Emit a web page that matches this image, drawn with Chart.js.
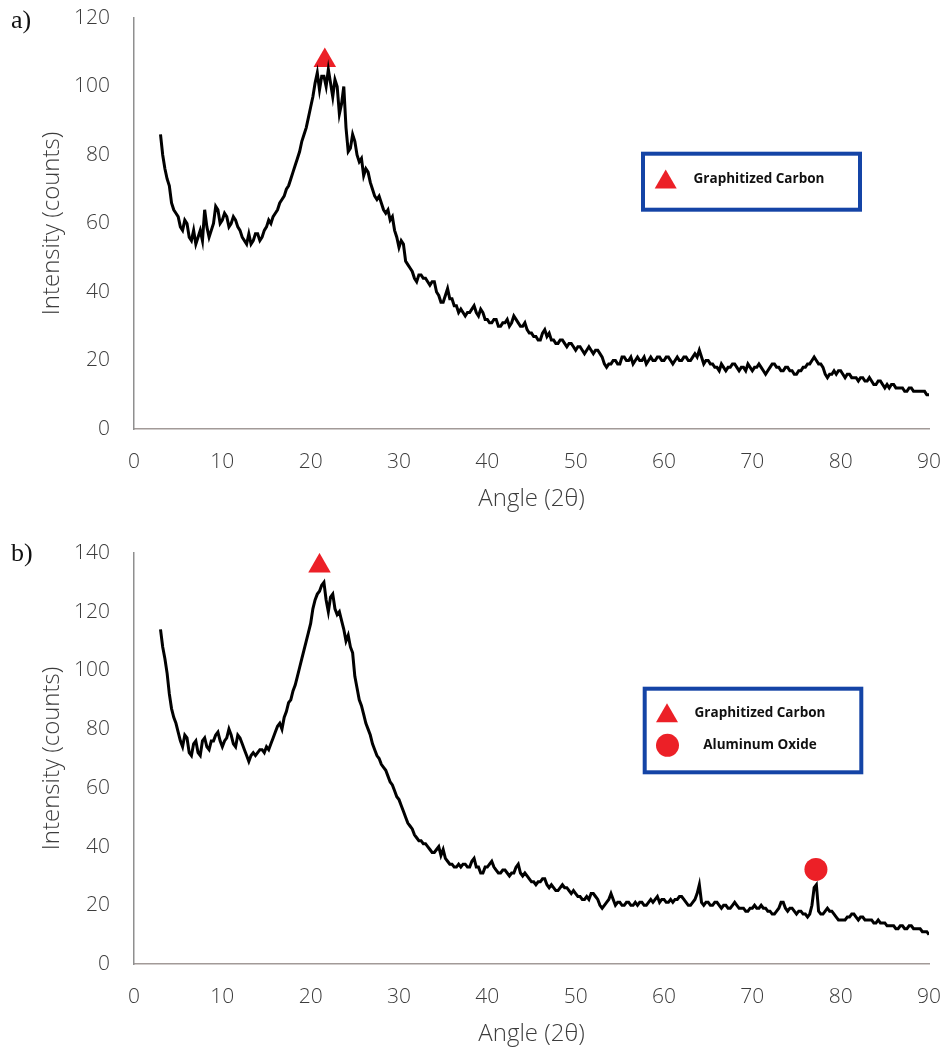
<!DOCTYPE html>
<html>
<head>
<meta charset="utf-8">
<script src="https://cdn.jsdelivr.net/npm/chart.js@4.4.1/dist/chart.umd.min.js"></script>
<style>
  body { margin: 0; background: #fff; width: 946px; height: 1050px; overflow: hidden; position: relative; }
  .panel { position: absolute; left: 0; width: 946px; height: 520px; }
  .panel-label { position: absolute; left: 11px; font-family: 'Liberation Serif', 'DejaVu Serif', serif; font-size: 26px; line-height: 30px; color: #111; }
</style>
</head>
<body>
<div class="panel" style="top:0"><canvas id="chart-a"></canvas></div>
<div class="panel-label" style="top:5px">a)</div>
<div class="panel" style="top:535px"><canvas id="chart-b"></canvas></div>
<div class="panel-label" style="top:538px">b)</div>

<script>
// diffraction angle (2θ) shared by both scans, one row per degree
const angles = [
  3, 3.25, 3.5, 3.75, 4, 4.25, 4.5, 4.75, 5, 5.25, 5.5, 5.75, 6, 6.25, 6.5, 6.75,
  7, 7.25, 7.5, 7.75, 8, 8.25, 8.5, 8.75, 9, 9.25, 9.5, 9.75, 10, 10.25, 10.5, 10.75,
  11, 11.25, 11.5, 11.75, 12, 12.25, 12.5, 12.75, 13, 13.25, 13.5, 13.75, 14, 14.25, 14.5, 14.75,
  15, 15.25, 15.5, 15.75, 16, 16.25, 16.5, 16.75, 17, 17.25, 17.5, 17.75, 18, 18.25, 18.5, 18.75,
  19, 19.25, 19.5, 19.75, 20, 20.25, 20.5, 20.75, 21, 21.25, 21.5, 21.75, 22, 22.25, 22.5, 22.75,
  23, 23.25, 23.5, 23.75, 24, 24.25, 24.5, 24.75, 25, 25.25, 25.5, 25.75, 26, 26.25, 26.5, 26.75,
  27, 27.25, 27.5, 27.75, 28, 28.25, 28.5, 28.75, 29, 29.25, 29.5, 29.75, 30, 30.25, 30.5, 30.75,
  31, 31.25, 31.5, 31.75, 32, 32.25, 32.5, 32.75, 33, 33.25, 33.5, 33.75, 34, 34.25, 34.5, 34.75,
  35, 35.25, 35.5, 35.75, 36, 36.25, 36.5, 36.75, 37, 37.25, 37.5, 37.75, 38, 38.25, 38.5, 38.75,
  39, 39.25, 39.5, 39.75, 40, 40.25, 40.5, 40.75, 41, 41.25, 41.5, 41.75, 42, 42.25, 42.5, 42.75,
  43, 43.25, 43.5, 43.75, 44, 44.25, 44.5, 44.75, 45, 45.25, 45.5, 45.75, 46, 46.25, 46.5, 46.75,
  47, 47.25, 47.5, 47.75, 48, 48.25, 48.5, 48.75, 49, 49.25, 49.5, 49.75, 50, 50.25, 50.5, 50.75,
  51, 51.25, 51.5, 51.75, 52, 52.25, 52.5, 52.75, 53, 53.25, 53.5, 53.75, 54, 54.25, 54.5, 54.75,
  55, 55.25, 55.5, 55.75, 56, 56.25, 56.5, 56.75, 57, 57.25, 57.5, 57.75, 58, 58.25, 58.5, 58.75,
  59, 59.25, 59.5, 59.75, 60, 60.25, 60.5, 60.75, 61, 61.25, 61.5, 61.75, 62, 62.25, 62.5, 62.75,
  63, 63.25, 63.5, 63.75, 64, 64.25, 64.5, 64.75, 65, 65.25, 65.5, 65.75, 66, 66.25, 66.5, 66.75,
  67, 67.25, 67.5, 67.75, 68, 68.25, 68.5, 68.75, 69, 69.25, 69.5, 69.75, 70, 70.25, 70.5, 70.75,
  71, 71.25, 71.5, 71.75, 72, 72.25, 72.5, 72.75, 73, 73.25, 73.5, 73.75, 74, 74.25, 74.5, 74.75,
  75, 75.25, 75.5, 75.75, 76, 76.25, 76.5, 76.75, 77, 77.25, 77.5, 77.75, 78, 78.25, 78.5, 78.75,
  79, 79.25, 79.5, 79.75, 80, 80.25, 80.5, 80.75, 81, 81.25, 81.5, 81.75, 82, 82.25, 82.5, 82.75,
  83, 83.25, 83.5, 83.75, 84, 84.25, 84.5, 84.75, 85, 85.25, 85.5, 85.75, 86, 86.25, 86.5, 86.75,
  87, 87.25, 87.5, 87.75, 88, 88.25, 88.5, 88.75, 89, 89.25, 89.5, 89.75, 90
];

// a) scan, counts
const intensityA = [
  86, 80, 76, 73, 71, 66, 64, 63, 62, 59, 58, 61, 60, 56, 55, 58,
  54, 56, 58, 55, 64, 59, 56, 58, 60, 65, 64, 60, 61, 63, 62, 59,
  60, 62, 61, 59, 58, 56, 55, 54, 57, 54, 55, 57, 57, 55, 56, 58,
  59, 61, 60, 62, 63, 64, 66, 67, 68, 70, 71, 73, 75, 77, 79, 81,
  84, 86, 88, 91, 94, 97, 101, 104, 99, 103, 103, 100, 105, 101, 97, 102,
  100, 92, 95, 100, 88, 81, 82, 86, 84, 80, 78, 79, 74, 76, 75, 72,
  70, 68, 67, 68, 66, 64, 63, 64, 61, 62, 58, 56, 53, 55, 54, 49,
  48, 47, 46, 44, 43, 45, 45, 44, 44, 43, 42, 43, 43, 40, 39, 37,
  37, 39, 41, 38, 38, 36, 36, 34, 35, 34, 33, 34, 34, 35, 36, 34,
  33, 35, 34, 32, 32, 31, 31, 32, 32, 30, 30, 31, 31, 32, 30, 31,
  33, 32, 31, 30, 30, 31, 29, 28, 28, 27, 27, 26, 26, 28, 29, 27,
  28, 26, 26, 25, 25, 26, 26, 25, 24, 25, 25, 24, 23, 24, 24, 23,
  22, 23, 24, 23, 22, 23, 23, 22, 21, 19, 18, 19, 19, 20, 20, 19,
  19, 21, 21, 20, 20, 21, 19, 20, 21, 20, 20, 21, 19, 20, 21, 20,
  20, 21, 21, 20, 20, 21, 21, 20, 19, 20, 21, 20, 20, 21, 21, 20,
  20, 21, 22, 21, 23, 21, 19, 20, 20, 19, 19, 18, 18, 17, 19, 18,
  17, 18, 18, 19, 19, 18, 17, 18, 18, 17, 19, 18, 17, 18, 18, 19,
  18, 17, 16, 17, 18, 19, 19, 18, 18, 17, 17, 18, 18, 17, 17, 16,
  16, 17, 17, 18, 18, 19, 19, 20, 21, 20, 19, 19, 18, 16, 15, 16,
  16, 17, 16, 17, 17, 16, 15, 16, 16, 15, 15, 15, 14, 15, 15, 14,
  14, 15, 14, 13, 13, 14, 14, 13, 12, 13, 12, 13, 13, 12, 12, 12,
  12, 11, 11, 12, 12, 11, 11, 11, 11, 11, 11, 10, 10
];

// b) scan, counts
const intensityB = [
  114, 108, 104, 99, 92, 87, 84, 82, 79, 76, 74, 78, 77, 72, 71, 75,
  76, 72, 71, 76, 77, 74, 73, 76, 76, 78, 79, 76, 74, 76, 77, 80,
  78, 75, 74, 78, 77, 75, 73, 71, 69, 71, 72, 71, 72, 73, 73, 72,
  74, 73, 75, 77, 79, 81, 82, 80, 84, 86, 89, 90, 93, 95, 98, 101,
  104, 107, 110, 113, 116, 121, 124, 126, 127, 129, 130, 124, 120, 125, 126, 121,
  119, 120, 117, 114, 110, 112, 108, 106, 98, 94, 90, 88, 85, 82, 80, 78,
  75, 73, 71, 70, 68, 67, 66, 64, 62, 61, 59, 57, 56, 54, 52, 50,
  48, 47, 46, 44, 43, 42, 42, 41, 41, 40, 39, 38, 38, 39, 40, 37,
  39, 36, 35, 34, 34, 33, 33, 34, 33, 34, 34, 33, 33, 35, 36, 33,
  33, 31, 31, 33, 33, 34, 35, 33, 32, 31, 31, 32, 32, 31, 30, 31,
  31, 33, 34, 31, 30, 31, 30, 29, 28, 28, 27, 28, 28, 29, 29, 27,
  26, 27, 26, 25, 25, 26, 27, 26, 26, 25, 24, 25, 24, 23, 23, 22,
  22, 23, 22, 24, 24, 23, 22, 20, 19, 20, 21, 22, 24, 22, 20, 21,
  21, 20, 20, 21, 21, 20, 20, 21, 20, 21, 21, 20, 20, 21, 22, 21,
  22, 23, 21, 22, 22, 21, 21, 22, 21, 22, 22, 23, 23, 22, 21, 20,
  20, 21, 22, 24, 27, 21, 20, 21, 21, 20, 20, 21, 21, 20, 19, 20,
  20, 19, 19, 20, 21, 20, 19, 19, 19, 18, 18, 19, 19, 20, 19, 19,
  20, 19, 19, 18, 18, 17, 17, 18, 19, 21, 21, 19, 18, 19, 19, 18,
  17, 18, 18, 17, 17, 16, 17, 20, 26, 27, 18, 17, 17, 18, 19, 18,
  18, 17, 16, 15, 15, 15, 15, 16, 16, 17, 17, 16, 15, 16, 16, 15,
  15, 15, 15, 14, 14, 15, 14, 14, 14, 13, 13, 13, 13, 12, 12, 13,
  13, 12, 12, 13, 13, 12, 12, 12, 12, 11, 11, 11, 10
];

// phase markers placed above the peaks
const carbonPeakA = [{x: 21.6, y: 107.6}];
const carbonPeakB = [{x: 21.0, y: 135.6}];
const aluminaPeakB = [{x: 77.2, y: 32.2}];

const xTicks = {min: 0, max: 90, step: 10};
const yMaxA = 120;
const yMaxB = 140;
const legendLabels = ['Graphitized Carbon', 'Aluminum Oxide'];

const MARK_RED = '#ec2027';
const BOX_BLUE = '#1444a6';
const TEXT_GREY = '#3c3c3c';
const AXIS_FONT = "'Open Sans'";

const legendBoxPlugin = {
  id: 'legendBox',
  afterDraw(chart, args, opts) {
    const ctx = chart.ctx;
    ctx.save();
    ctx.strokeStyle = BOX_BLUE;
    ctx.lineWidth = 4;
    ctx.strokeRect(opts.left, opts.top, opts.width, opts.height);

    opts.items.forEach(item => {
      ctx.fillStyle = MARK_RED;
      ctx.beginPath();
      if (item.style === 'triangle') {
        ctx.moveTo(item.markX, item.y - 9.5);
        ctx.lineTo(item.markX + 11, item.y + 9.5);
        ctx.lineTo(item.markX - 11, item.y + 9.5);
        ctx.closePath();
      } else {
        ctx.arc(item.markX, item.y, 11.5, 0, Math.PI * 2);
      }
      ctx.fill();

      ctx.fillStyle = '#111';
      ctx.font = "bold 13.5px 'Open Sans'";
      ctx.textAlign = 'center';
      ctx.textBaseline = 'middle';
      ctx.fillText(item.label, opts.textX, item.y);
    });
    ctx.restore();
  }
};

function toPoints(xs, ys) {
  return xs.map((x, i) => ({x: x, y: ys[i]}));
}

function markerDataset(points, style, radius) {
  return {
    type: 'scatter',
    data: points,
    pointStyle: style,
    pointRadius: radius,
    pointBackgroundColor: MARK_RED,
    pointBorderColor: MARK_RED,
    pointBorderWidth: 0
  };
}

function buildChart(canvasId, intensities, yMax, markers, legend) {
  return new Chart(document.getElementById(canvasId).getContext('2d'), {
    type: 'line',
    data: {
      datasets: [
        {
          data: toPoints(angles, intensities),
          borderColor: '#000',
          borderWidth: 3,
          pointRadius: 0,
          tension: 0
        },
        ...markers
      ]
    },
    options: {
      responsive: true,
      maintainAspectRatio: false,
      animation: false,
      layout: {
        autoPadding: false,
        padding: {top: 18, right: 17, left: 0, bottom: 0}
      },
      scales: {
        x: {
          type: 'linear',
          min: xTicks.min,
          max: xTicks.max,
          // fixed axis band, and no extra room reserved for the end labels
          afterFit(scale) {
            scale.height = 91;
            scale.paddingLeft = 0;
            scale.paddingRight = 0;
          },
          grid: {display: false, drawTicks: false},
          border: {display: true, color: '#a29a98', width: 1.5},
          ticks: {
            stepSize: xTicks.step,
            padding: 20,
            color: TEXT_GREY,
            font: {family: AXIS_FONT, size: 21, weight: '300'}
          },
          title: {
            display: true,
            text: 'Angle (2θ)',
            color: TEXT_GREY,
            padding: {top: 0, bottom: 6},
            font: {family: AXIS_FONT, size: 24, weight: '300'}
          }
        },
        y: {
          min: 0,
          max: yMax,
          afterFit(scale) {
            scale.width = 134;
            scale.paddingTop = 0;
            scale.paddingBottom = 0;
          },
          grid: {display: false, drawTicks: false},
          border: {display: true, color: '#8f8f8f', width: 1.5},
          ticks: {
            stepSize: 20,
            padding: 24,
            color: TEXT_GREY,
            font: {family: AXIS_FONT, size: 21, weight: '300'}
          },
          title: {
            display: true,
            text: 'Intensity (counts)',
            color: TEXT_GREY,
            padding: {top: 38, bottom: 0},
            font: {family: AXIS_FONT, size: 24, weight: '300'}
          }
        }
      },
      plugins: {
        legend: {display: false},
        tooltip: {enabled: false},
        legendBox: legend
      }
    },
    plugins: [legendBoxPlugin]
  });
}

buildChart('chart-a', intensityA, yMaxA, [
  markerDataset(carbonPeakA, 'triangle', 13)
], {
  left: 643, top: 153.7, width: 217, height: 56, textX: 759,
  items: [
    {style: 'triangle', markX: 665.7, y: 179, label: legendLabels[0]}
  ]
});

buildChart('chart-b', intensityB, yMaxB, [
  markerDataset(carbonPeakB, 'triangle', 13),
  markerDataset(aluminaPeakB, 'circle', 11.5)
], {
  left: 644.7, top: 153.7, width: 216.6, height: 83.6, textX: 760,
  items: [
    {style: 'triangle', markX: 667, y: 177.8, label: legendLabels[0]},
    {style: 'circle', markX: 667.5, y: 210.3, label: legendLabels[1]}
  ]
});
</script>
</body>
</html>
